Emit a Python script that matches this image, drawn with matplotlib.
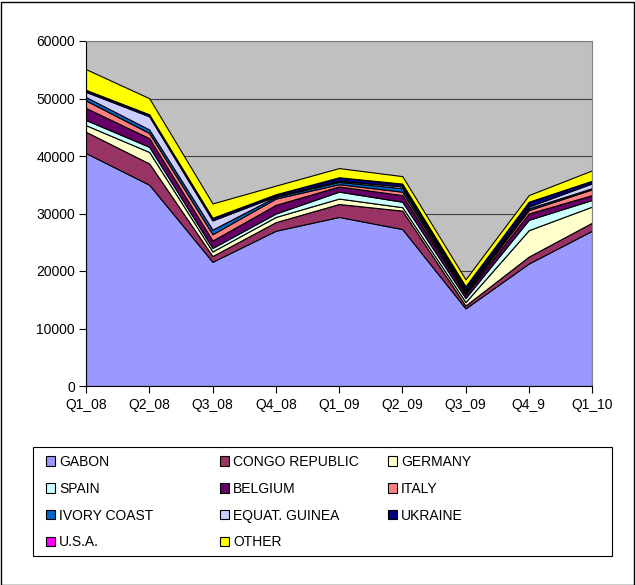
import matplotlib.pyplot as plt
from matplotlib.patches import Rectangle

plt.rcParams['font.family'] = ['Liberation Sans', 'DejaVu Sans']

quarters = ['Q1_08', 'Q2_08', 'Q3_08', 'Q4_08', 'Q1_09', 'Q2_09', 'Q3_09', 'Q4_9', 'Q1_10']

# volumes per origin, stacked in this order
gabon = [40500, 35000, 21600, 27000, 29400, 27300, 13500, 21300, 27000]
congo = [3700, 3700, 1000, 1500, 2250, 3200, 500, 1200, 1400]
germany = [1150, 2000, 800, 900, 950, 600, 600, 4600, 2800]
spain = [900, 900, 600, 600, 1200, 950, 700, 1800, 1150]
belgium = [2100, 1500, 1300, 1500, 900, 1150, 600, 1100, 850]
italy = [1300, 900, 1100, 1100, 400, 600, 300, 600, 1000]
ivory = [600, 600, 800, 300, 400, 600, 300, 300, 200]
equat = [900, 2300, 1600, 100, 200, 300, 200, 300, 850]
ukraine = [300, 300, 400, 300, 550, 450, 600, 800, 400]
usa = [50, 50, 50, 50, 50, 50, 50, 50, 50]
other = [3600, 2800, 2500, 1500, 1600, 1300, 1200, 1150, 1800]

labels = ['GABON', 'CONGO REPUBLIC', 'GERMANY', 'SPAIN', 'BELGIUM', 'ITALY',
          'IVORY COAST', 'EQUAT. GUINEA', 'UKRAINE', 'U.S.A.', 'OTHER']
colors = ['#9999FF', '#993366', '#FFFFCC', '#CCFFFF', '#660066', '#FF8080',
          '#0066CC', '#CCCCFF', '#000080', '#FF00FF', '#FFFF00']

series = [gabon, congo, germany, spain, belgium, italy, ivory, equat, ukraine, usa, other]

fig = plt.figure(figsize=(6.35, 5.85), dpi=100)
ax = fig.add_axes([86/635, 1-386/585, 506/635, 345/585])
ax.set_facecolor('#C0C0C0')

x = list(range(len(quarters)))
polys = ax.stackplot(x, *series, colors=colors, edgecolor='black', linewidth=0.8)

ax.set_xlim(0, len(quarters) - 1)
ax.set_ylim(0, 60000)
ax.set_yticks(range(0, 60001, 10000))
ax.set_xticks(x)
ax.set_xticklabels(quarters)
ax.tick_params(labelsize=10, length=5, color='black', width=0.8)
ax.tick_params(axis='x', pad=4)
ax.tick_params(axis='y', pad=3)
ax.grid(axis='y', color='#404040', linewidth=0.8)
ax.set_axisbelow(True)
for s in ['left', 'bottom']:
    ax.spines[s].set_color('black')
    ax.spines[s].set_linewidth(0.8)
for s in ['top', 'right']:
    ax.spines[s].set_color('#808080')
    ax.spines[s].set_linewidth(0.8)

# legend box
fig.add_artist(Rectangle((33/635, 1-556/585), 579/635, 109/585, transform=fig.transFigure,
                         fill=False, edgecolor='black', linewidth=0.8))
# outer frame
fig.add_artist(Rectangle((0.5/635, 0.5/585), 633/635, 583/585, transform=fig.transFigure,
                         fill=False, edgecolor='black', linewidth=1))

# legend laid out row by row in three columns
col_x = [46, 220, 388]
for c in range(3):
    idx = list(range(c, len(labels), 3))
    hs = [polys[i] for i in idx]
    ls = [labels[i] for i in idx]
    fig.legend(hs, ls, loc='upper left', bbox_to_anchor=(col_x[c]/635, 1-455/585),
               frameon=False, fontsize=10, handlelength=0.65, handleheight=0.65,
               handletextpad=0.3, labelspacing=0.92, borderpad=0, borderaxespad=0)

plt.savefig('out.png', dpi=100)
